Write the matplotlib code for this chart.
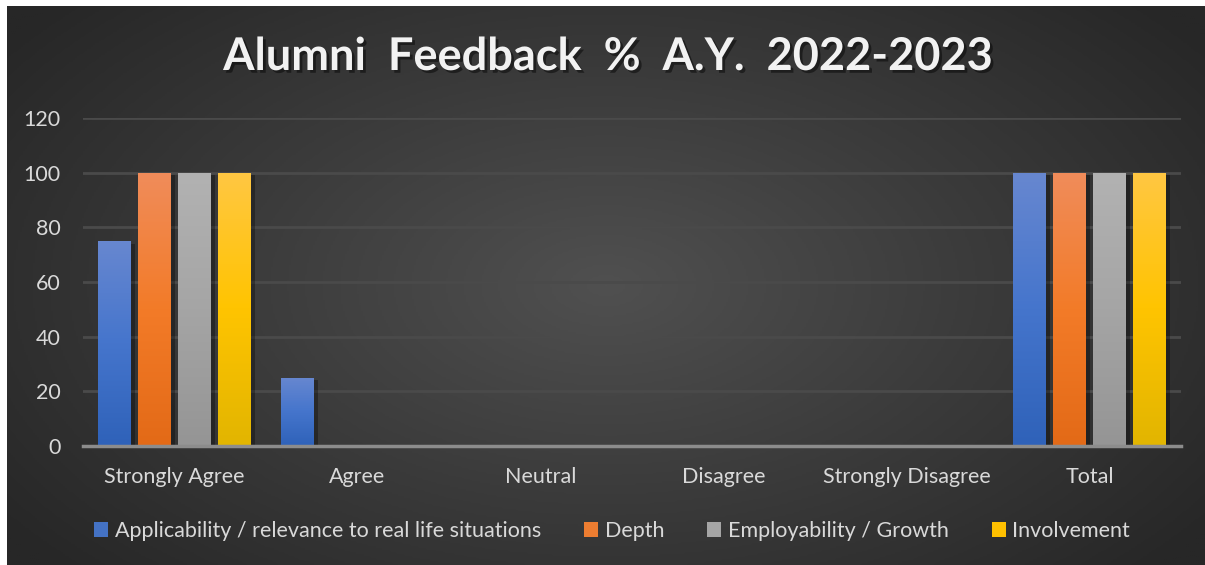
import numpy as np
from matplotlib import pyplot as plt
from matplotlib import patheffects as pe
from matplotlib.colors import LinearSegmentedColormap
from matplotlib.patches import Patch

categories = ['Strongly Agree', 'Agree', 'Neutral', 'Disagree', 'Strongly Disagree', 'Total']
series_names = ['Applicability / relevance to real life situations', 'Depth',
                'Employability / Growth', 'Involvement']
applicability = [75, 25, 0, 0, 0, 100]
depth = [100, 0, 0, 0, 0, 100]
employability = [100, 0, 0, 0, 0, 100]
involvement = [100, 0, 0, 0, 0, 100]
yticks = [0, 20, 40, 60, 80, 100, 120]

# gradients top -> bottom
gradients = [
    ['#6787d0', '#4575cc', '#2f62b9'],
    ['#f08c5a', '#f37b28', '#e36a17'],
    ['#b2b2b2', '#a5a5a5', '#959595'],
    ['#ffc742', '#ffc400', '#e2b500'],
]
legend_colors = ['#4472c4', '#ed7d31', '#a5a5a5', '#ffc000']

plt.rcParams['font.family'] = ['Lato', 'DejaVu Sans']

fig = plt.figure(figsize=(12.05, 5.65), dpi=100, facecolor='white')

# dark radial background
bg = fig.add_axes([7 / 1205, 0, 1 - 7 / 1205, 1 - 6 / 565])
bg.set_axis_off()
yy, xx = np.mgrid[0:1:300j, 0:1:600j]
r = np.sqrt(((xx - 0.5) / 0.62) ** 2 + ((yy - 0.5) / 0.75) ** 2)
r = np.clip(r, 0, 1)
bg_cmap = LinearSegmentedColormap.from_list('bg', ['#505050', '#3b3b3b', '#272727'])
bg.imshow(r, cmap=bg_cmap, aspect='auto', extent=[0, 1, 0, 1], vmin=0, vmax=1)
bg.set_xlim(0, 1)
bg.set_ylim(0, 1)

ax = fig.add_axes([83 / 1205, 1 - 446 / 565, (1181 - 83) / 1205, (446 - 118) / 565])
ax.set_facecolor('none')

x = np.arange(len(categories))
step = 40 / 183
width = 33 / 183
all_series = [applicability, depth, employability, involvement]
offsets = [-1.5 * step, -0.5 * step, 0.5 * step, 1.5 * step]

shadow = [pe.SimplePatchShadow(offset=(3, -2), shadow_rgbFace='black', alpha=0.3), pe.Normal()]
for vals, off, grad in zip(all_series, offsets, gradients):
    cmap = LinearSegmentedColormap.from_list('g', grad[::-1])
    bars = ax.bar(x + off, vals, width, color=grad[1], zorder=2)
    for b in bars:
        h = b.get_height()
        if h <= 0:
            b.set_visible(False)
            continue
        b.set_path_effects(shadow)
        x0 = b.get_x()
        im = ax.imshow(np.linspace(0, 1, 100).reshape(-1, 1), cmap=cmap, aspect='auto',
                       origin='lower', extent=[x0, x0 + b.get_width(), 0, h], zorder=3)
        im.set_clip_path(b)

ax.set_xlim(-0.5, len(categories) - 0.5)
ax.set_ylim(0, 120)
ax.set_yticks(yticks)
ax.set_xticks(x)
ax.set_xticklabels(categories)
ax.yaxis.grid(True, color='#4a4a4a', linewidth=2)
ax.set_axisbelow(True)
for s in ['top', 'right', 'left']:
    ax.spines[s].set_visible(False)
ax.spines['bottom'].set_color('#8c8c8c')
ax.spines['bottom'].set_linewidth(2.5)
ax.spines['bottom'].set_zorder(4)
ax.tick_params(axis='both', length=0, labelsize=15.5, colors='#d9d9d9')
ax.tick_params(axis='y', pad=16)
ax.tick_params(axis='x', pad=15)

title = fig.text(0.505, 1 - 57 / 565, 'Alumni  Feedback  %  A.Y.  2022-2023', ha='center', va='center',
                 fontsize=32.5, fontweight='bold', color='#f2f2f2')
title.set_path_effects([pe.withSimplePatchShadow(offset=(2, -2), shadow_rgbFace='black', alpha=0.45)])

handles = [Patch(facecolor=c, edgecolor='none') for c in legend_colors]
fig.legend(handles, series_names, loc='center', bbox_to_anchor=(0.508, 1 - 531 / 565), ncol=4,
           frameon=False, fontsize=15.5, labelcolor='#d9d9d9', handlelength=0.65, handleheight=0.65,
           handletextpad=0.3, columnspacing=2.0)

plt.savefig('out.png')
